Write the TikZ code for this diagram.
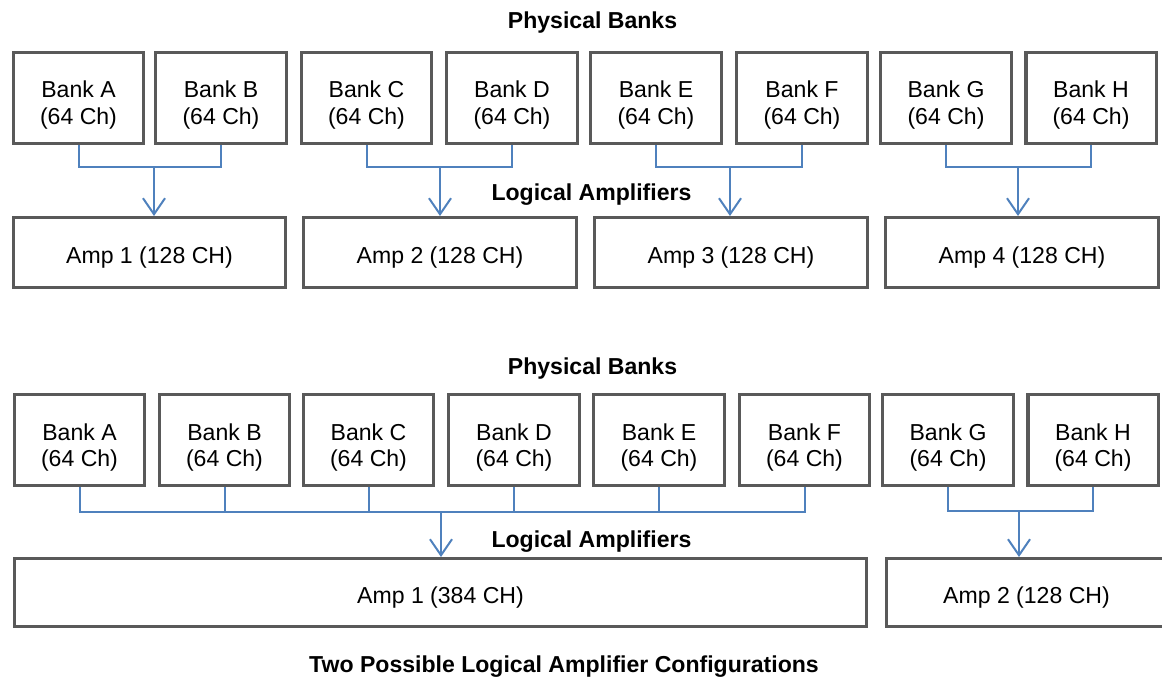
\documentclass[tikz,border=0pt]{standalone}
\usepackage{fontspec}
\setmainfont{Liberation Sans}
\usetikzlibrary{arrows.meta}
\definecolor{boxgray}{RGB}{89,89,89}
\definecolor{linkblue}{RGB}{79,129,189}
\newcommand{\bankfont}{\fontsize{16.4pt}{18.5pt}\selectfont}

\begin{document}
\begin{tikzpicture}[x=0.025cm,y=0.025cm,
	font=\bankfont,
	bank/.style={draw=boxgray,line width=0.075cm,fill=white,minimum width=3.25cm,minimum height=2.275cm,align=center,inner sep=0pt,text height=1.4cm,text depth=0.1cm},
	amp/.style={draw=boxgray,line width=0.075cm,fill=white,minimum height=1.75cm,inner sep=0pt,text height=0.6cm,text depth=0.075cm},
	title/.style={font=\bankfont\bfseries,anchor=base},
	link/.style={draw=linkblue,line width=0.05cm},
	arr/.style={link,-{Straight Barb[length=0.4cm,width=0.55cm]}}]
					\useasboundingbox (0,0) rectangle (1162,-679);
					
					% first configuration: four amplifiers
					\node[title] (pb1) at (592.5,-28) {Physical Banks};
					\node[bank] (ba) at (78.5,-98) {Bank A\\(64 Ch)};
					\node[bank] (bb) at (221,-98) {Bank B\\(64 Ch)};
					\node[bank] (bc) at (366.5,-98) {Bank C\\(64 Ch)};
					\node[bank] (bd) at (512,-98) {Bank D\\(64 Ch)};
					\node[bank] (be) at (656,-98) {Bank E\\(64 Ch)};
					\node[bank] (bf) at (802,-98) {Bank F\\(64 Ch)};
					\node[bank] (bg) at (946,-98) {Bank G\\(64 Ch)};
					\node[bank] (bh) at (1091,-98) {Bank H\\(64 Ch)};
					
					\node[title] (la1) at (591.5,-200) {Logical Amplifiers};
					\node[amp,minimum width=6.8cm] (amp1) at (149.5,-252.5) {Amp 1 (128 CH)};
					\node[amp,minimum width=6.8cm] (amp2) at (440,-252.5) {Amp 2 (128 CH)};
					\node[amp,minimum width=6.8cm] (amp3) at (731,-252.5) {Amp 3 (128 CH)};
					\node[amp,minimum width=6.8cm] (amp4) at (1022,-252.5) {Amp 4 (128 CH)};
					
					\coordinate (j1) at (154,-167);
					\coordinate (j2) at (440,-167);
					\coordinate (j3) at (730,-167);
					\coordinate (j4) at (1018,-167);
					\draw[link] (ba.south) |- (j1) -| (bb.south);
					\draw[link] (bc.south) |- (j2) -| (bd.south);
					\draw[link] (be.south) |- (j3) -| (bf.south);
					\draw[link] (bg.south) |- (j4) -| (bh.south);
					\draw[arr] (j1) -- (j1 |- amp1.north);
					\draw[arr] (j2) -- (j2 |- amp2.north);
					\draw[arr] (j3) -- (j3 |- amp3.north);
					\draw[arr] (j4) -- (j4 |- amp4.north);
					
					% second configuration: two amplifiers
					\node[title] (pb2) at (592.5,-374) {Physical Banks};
					\node[bank] (qa) at (79.5,-440) {Bank A\\(64 Ch)};
					\node[bank] (qb) at (224.5,-440) {Bank B\\(64 Ch)};
					\node[bank] (qc) at (368.5,-440) {Bank C\\(64 Ch)};
					\node[bank] (qd) at (514,-440) {Bank D\\(64 Ch)};
					\node[bank] (qe) at (659,-440) {Bank E\\(64 Ch)};
					\node[bank] (qf) at (804.5,-440) {Bank F\\(64 Ch)};
					\node[bank] (qg) at (948,-440) {Bank G\\(64 Ch)};
					\node[bank] (qh) at (1093,-440) {Bank H\\(64 Ch)};
					
					\node[title] (la2) at (591.5,-547) {Logical Amplifiers};
					\node[amp,minimum width=21.3cm,minimum height=1.7cm] (bigamp) at (440.5,-592.5) {Amp 1 (384 CH)};
					\node[amp,minimum width=7cm,minimum height=1.7cm] (smallamp) at (1026.5,-592.5) {Amp 2 (128 CH)};
					
					\coordinate (k1) at (441,-512);
					\coordinate (k2) at (1019,-511);
					\draw[link] (qa.south) |- (k1) -| (qf.south);
					\draw[link] (qb.south) -- (qb.south |- k1);
					\draw[link] (qc.south) -- (qc.south |- k1);
					\draw[link] (qd.south) -- (qd.south |- k1);
					\draw[link] (qe.south) -- (qe.south |- k1);
					\draw[link] (qg.south) |- (k2) -| (qh.south);
					\draw[arr] (k1) -- (k1 |- bigamp.north);
					\draw[arr] (k2) -- (k2 |- smallamp.north);
					
					\node[title] (cap) at (564,-672) {Two Possible Logical Amplifier Configurations};
				\end{tikzpicture}
\end{document}
